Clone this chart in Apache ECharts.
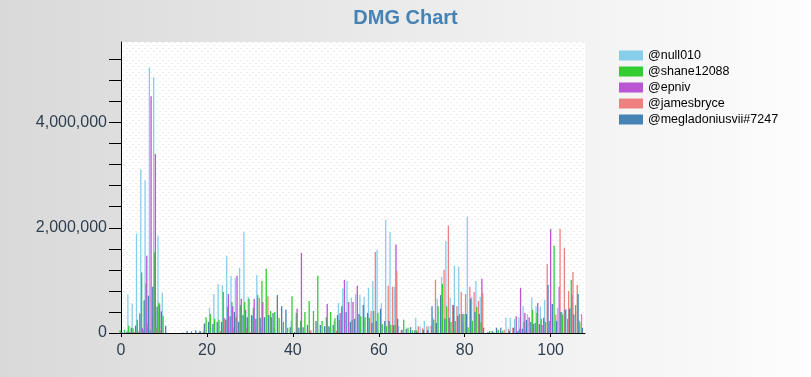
<!DOCTYPE html>
<html>
<head>
<meta charset="utf-8">
<title>DMG Chart</title>
<script src="https://cdn.jsdelivr.net/npm/echarts@6/dist/echarts.min.js"></script>
<style>
  html, body { margin: 0; padding: 0; }
  #main { width: 811px; height: 377px; }
</style>
</head>
<body>
<div id="main"></div>
<script>
// damage per player, in thousands, one value per x position (0..107)
var names = ['@null010', '@shane12088', '@epniv', '@jamesbryce', '@megladoniusvii#7247'];
var colors = ['#87ceeb', '#32cd32', '#ba55d3', '#f08080', '#4682b4'];

var null010 = [
  0, 0, 730, 560, 1890, 3110, 2900, 5050, 4860, 1850,
  770, 0, 0, 0, 0, 0, 0, 0, 10, 30,
  0, 480, 740, 930, 910, 1470, 1090, 1050, 1240, 1920,
  690, 320, 1100, 110, 0, 0, 110, 0, 0, 0,
  230, 0, 0, 0, 0, 0, 0, 0, 0, 100,
  230, 570, 840, 990, 670, 740, 720, 690, 860, 990,
  1580, 570, 2150, 1920, 880, 130, 0, 0, 0, 290,
  130, 230, 130, 290, 650, 1070, 1750, 670, 1280, 1260,
  200, 2210, 690, 990, 690, 0, 0, 0, 0, 0,
  290, 290, 270, 300, 510, 360, 670, 510, 500, 630,
  230, 0, 480, 400, 460, 480, 0, 250
];
var shane12088 = [
  50, 60, 140, 90, 250, 1150, 940, 60, 1530, 580,
  330, 0, 0, 0, 0, 0, 0, 0, 0, 0,
  300, 360, 270, 250, 780, 500, 590, 300, 530, 590,
  650, 480, 720, 990, 1220, 420, 400, 290, 210, 100,
  700, 380, 230, 400, 610, 420, 1090, 230, 300, 400,
  280, 250, 0, 0, 250, 0, 320, 300, 290, 420,
  380, 170, 130, 150, 150, 0, 250, 100, 50, 50,
  0, 0, 0, 250, 510, 930, 510, 210, 230, 360,
  360, 110, 230, 500, 200, 0, 40, 20, 60, 40,
  0, 0, 0, 80, 210, 0, 440, 380, 270, 210,
  230, 1660, 0, 350, 0, 1010, 530, 210
];
var epniv = [
  20, 0, 20, 10, 30, 90, 1470, 4500, 3400, 540,
  0, 0, 0, 0, 0, 0, 0, 0, 0, 0,
  0, 0, 0, 0, 290, 740, 510, 1090, 650, 440,
  0, 650, 0, 590, 0, 300, 0, 0, 0, 0,
  0, 460, 1520, 0, 50, 0, 0, 0, 550, 0,
  0, 380, 1010, 590, 590, 900, 0, 0, 0, 0,
  0, 0, 0, 0, 1680, 0, 0, 0, 0, 20,
  0, 0, 0, 0, 0, 0, 0, 0, 0, 0,
  0, 0, 0, 0, 1030, 0, 0, 0, 0, 0,
  0, 0, 320, 860, 380, 300, 170, 570, 150, 0,
  1980, 0, 880, 0, 270, 720, 0, 0
];
var jamesbryce = [
  0, 10, 10, 20, 20, 50, 180, 320, 100, 50,
  0, 0, 0, 0, 0, 0, 0, 0, 20, 30,
  0, 0, 0, 40, 270, 0, 100, 0, 0, 100,
  20, 0, 670, 0, 700, 0, 0, 0, 0, 0,
  0, 0, 0, 0, 50, 0, 0, 0, 0, 0,
  40, 0, 0, 0, 0, 0, 0, 0, 420, 1540,
  0, 0, 900, 880, 1180, 50, 0, 0, 0, 130,
  90, 130, 140, 1010, 0, 1200, 2040, 530, 510, 780,
  740, 880, 780, 610, 760, 0, 0, 0, 0, 60,
  80, 100, 0, 0, 60, 60, 0, 0, 0, 1310,
  0, 350, 1980, 1620, 800, 1160, 910, 360
];
var megladoniusvii = [
  10, 30, 100, 140, 370, 620, 710, 880, 500, 410,
  140, 0, 0, 0, 10, 40, 30, 50, 40, 180,
  210, 170, 210, 210, 250, 320, 400, 210, 340, 300,
  340, 270, 290, 300, 340, 380, 720, 510, 440, 110,
  20, 100, 110, 150, 0, 230, 150, 130, 130, 150,
  340, 510, 400, 210, 270, 360, 530, 380, 190, 230,
  460, 230, 230, 150, 270, 60, 80, 110, 50, 0,
  60, 50, 510, 190, 720, 270, 290, 530, 330, 360,
  360, 650, 400, 360, 100, 20, 40, 100, 100, 0,
  40, 100, 40, 80, 250, 210, 190, 170, 290, 910,
  550, 230, 400, 440, 460, 350, 740, 100
];
var allSeries = [null010, shane12088, epniv, jamesbryce, megladoniusvii];

var xTicks = [0, 20, 40, 60, 80, 100];
var yLabels = [0, 2000000, 4000000];
var yTicks = [];
for (var t = 0; t <= 5200000; t += 400000) yTicks.push(t);

// faint dotted hatch for the plot area
var hatch = document.createElement('canvas');
hatch.width = 6; hatch.height = 6;
var hc = hatch.getContext('2d');
hc.fillStyle = '#ffffff';
hc.fillRect(0, 0, 6, 6);
hc.fillStyle = '#ececec';
hc.fillRect(0, 0, 2, 1);
hc.fillRect(3, 3, 2, 1);

var myChart = echarts.init(document.getElementById('main'), null, { renderer: 'canvas' });

var series = [];
for (var s = 0; s < allSeries.length; s++) {
  var pts = [];
  for (var i = 0; i < allSeries[s].length; i++) {
    pts.push([i, allSeries[s][i] * 1000]);
  }
  series.push({
    name: names[s],
    type: 'bar',
    data: pts,
    barWidth: 1.3,
    barGap: '-35%',
    itemStyle: { color: colors[s] },
    silent: true
  });
}

var option = {
  animation: false,
  backgroundColor: {
    type: 'linear', x: 0, y: 0, x2: 1, y2: 0,
    colorStops: [{ offset: 0, color: '#d9d9d9' }, { offset: 1, color: '#fdfdfd' }]
  },
  title: {
    text: 'DMG Chart',
    left: 'center',
    top: 3,
    textStyle: { color: '#4682b4', fontSize: 20, fontWeight: 'bold', fontFamily: 'Liberation Sans, Arial, sans-serif' }
  },
  legend: {
    orient: 'vertical',
    left: 614,
    top: 44,
    itemWidth: 24,
    itemHeight: 10,
    itemGap: 3,
    icon: 'rect',
    data: names,
    textStyle: { color: '#000', fontSize: 12.5, fontFamily: 'Liberation Sans, Arial, sans-serif' }
  },
  color: colors,
  grid: {
    left: 121, right: 226, top: 42, bottom: 44,
    show: true,
    borderWidth: 0,
    backgroundColor: { image: hatch, repeat: 'repeat' }
  },
  xAxis: {
    type: 'value',
    min: 0,
    max: 108,
    splitLine: { show: false },
    axisLine: { show: true, onZero: false, lineStyle: { color: '#000', width: 1 } },
    axisTick: { show: true, length: 4, customValues: xTicks, lineStyle: { color: '#000' } },
    axisLabel: {
      customValues: xTicks, margin: 10, color: '#2f3f4f', fontSize: 16,
      fontFamily: 'Liberation Sans, Arial, sans-serif'
    }
  },
  yAxis: {
    type: 'value',
    min: 0,
    max: 5530000,
    splitLine: { show: false },
    axisLine: { show: true, lineStyle: { color: '#000', width: 1 } },
    axisTick: { show: true, length: 12, customValues: yTicks, lineStyle: { color: '#000' } },
    axisLabel: {
      customValues: yLabels, margin: 14, color: '#2f3f4f', fontSize: 16,
      fontFamily: 'Liberation Sans, Arial, sans-serif',
      formatter: function (v) { return v.toLocaleString('en-US'); }
    }
  },
  series: series
};

myChart.setOption(option);
</script>
</body>
</html>
